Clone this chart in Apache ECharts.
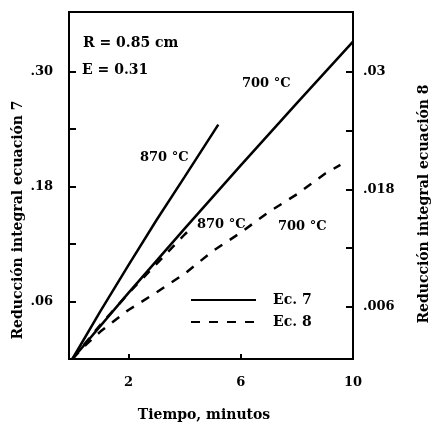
<!DOCTYPE html>
<html>
<head>
<meta charset="utf-8">
<script src="https://cdn.jsdelivr.net/npm/echarts@6/dist/echarts.min.js"></script>
<style>
html,body{margin:0;padding:0;background:#fff;}
#chart{width:433px;height:426px;}
</style>
</head>
<body>
<div id="chart"></div>
<script>
// Time (minutes) and integral reduction values
const ec7_870 = [[0, 0], [1, 0.050], [2, 0.098], [3, 0.145], [4, 0.190], [5.2, 0.2445]];
const ec7_700 = [[0, 0], [2, 0.069], [4, 0.136], [6, 0.202], [8, 0.267], [10, 0.331]];
const ec8_870 = [[0, 0.0007], [1, 0.0042], [2, 0.0074], [3, 0.0104], [4, 0.0134], [4.3, 0.0142]];
const ec8_700 = [[0, 0.0007], [0.5, 0.0022], [1, 0.0035], [2, 0.0057], [3, 0.0075], [4, 0.0094],
                 [5, 0.0117], [6, 0.0136], [7, 0.0157], [8, 0.0175], [9, 0.0196], [9.55, 0.0205]];

const xTicks = [2, 6];
const xLabels = [2, 6, 10];
const leftTicks = [0.06, 0.12, 0.18, 0.24, 0.30];
const leftLabels = [0.06, 0.18, 0.30];
const rightTicks = [0.006, 0.012, 0.018, 0.024, 0.03];
const rightLabels = [0.006, 0.018, 0.03];

const FONT = 'DejaVu Serif';
const txt = { color: '#000', fontFamily: FONT, fontWeight: 'bold', fontSize: 13 };

const chart = echarts.init(document.getElementById('chart'), null, { renderer: 'canvas' });

const lineBase = { type: 'line', symbol: 'none', showSymbol: false, smooth: false, animation: false, color: '#000' };

chart.setOption({
  backgroundColor: '#fff',
  animation: false,
  color: ['#000'],
  grid: { left: 69, right: 80, top: 12, bottom: 67, show: true, borderColor: '#000', borderWidth: 2, backgroundColor: 'transparent' },
  xAxis: {
    type: 'value', min: -0.12, max: 10,
    axisLine: { onZero: false, lineStyle: { color: '#000', width: 2 } },
    axisTick: { inside: true, length: 5, lineStyle: { color: '#000', width: 2 }, customValues: xTicks },
    axisLabel: Object.assign({ customValues: xLabels, margin: 17, showMaxLabel: true }, txt),
    splitLine: { show: false }
  },
  yAxis: [
    {
      type: 'value', position: 'left', min: 0, max: 0.362,
      axisLine: { show: true, onZero: false, lineStyle: { color: '#000', width: 2 } },
      axisTick: { show: true, inside: true, length: 7, lineStyle: { color: '#000', width: 2 }, customValues: leftTicks },
      axisLabel: Object.assign({ customValues: leftLabels, margin: 16, formatter: v => v.toFixed(2).replace(/^0/, '') }, txt),
      splitLine: { show: false }
    },
    {
      type: 'value', position: 'right', min: 0.0007, max: 0.0361,
      axisLine: { show: true, onZero: false, lineStyle: { color: '#000', width: 2 } },
      axisTick: { show: true, inside: true, length: 7, lineStyle: { color: '#000', width: 2 }, customValues: rightTicks },
      axisLabel: Object.assign({ customValues: rightLabels, margin: 10, formatter: v => String(v).replace(/^0/, '') }, txt),
      splitLine: { show: false }
    }
  ],
  legend: {
    data: ['Ec. 7', 'Ec. 8'],
    orient: 'vertical', left: 185, top: 288,
    itemWidth: 65, itemHeight: 12, itemGap: 8,
    itemStyle: { opacity: 0 },
    textStyle: Object.assign({ padding: [0, 0, 0, 12] }, txt, { fontSize: 14 }),
    selectedMode: false
  },
  series: [
    Object.assign({ name: 'Ec. 7', data: ec7_870, yAxisIndex: 0, lineStyle: { color: '#000', width: 2.5, type: 'solid' } }, lineBase),
    Object.assign({ name: 'Ec. 7', data: ec7_700, yAxisIndex: 0, lineStyle: { color: '#000', width: 2.5, type: 'solid' } }, lineBase),
    Object.assign({ name: 'Ec. 8', data: ec8_870, yAxisIndex: 1, lineStyle: { color: '#000', width: 2.5, type: [9, 9] } }, lineBase),
    Object.assign({ name: 'Ec. 8', data: ec8_700, yAxisIndex: 1, lineStyle: { color: '#000', width: 2.5, type: [9, 9] } }, lineBase)
  ],
  graphic: [
    { type: 'text', left: 83, top: 36, style: { text: 'R = 0.85 cm', font: 'bold 14px ' + FONT, fill: '#000' } },
    { type: 'text', left: 82, top: 63, style: { text: 'E = 0.31', font: 'bold 14px ' + FONT, fill: '#000' } },
    { type: 'text', left: 242, top: 77, style: { text: '700 °C', font: 'bold 13px ' + FONT, fill: '#000' } },
    { type: 'text', left: 140, top: 151, style: { text: '870 °C', font: 'bold 13px ' + FONT, fill: '#000' } },
    { type: 'text', left: 197, top: 218, style: { text: '870 °C', font: 'bold 13px ' + FONT, fill: '#000' } },
    { type: 'text', left: 278, top: 220, style: { text: '700 °C', font: 'bold 13px ' + FONT, fill: '#000' } },
    { type: 'text', x: 18, y: 220, rotation: Math.PI / 2,
      style: { text: 'Reducción integral ecuación 7', font: 'bold 14px ' + FONT, fill: '#000', align: 'center', verticalAlign: 'middle' } },
    { type: 'text', x: 424, y: 204, rotation: Math.PI / 2,
      style: { text: 'Reducción integral ecuación 8', font: 'bold 14px ' + FONT, fill: '#000', align: 'center', verticalAlign: 'middle' } },
    { type: 'text', x: 204, y: 415,
      style: { text: 'Tiempo, minutos', font: 'bold 14px ' + FONT, fill: '#000', align: 'center', verticalAlign: 'middle' } }
  ]
});
</script>
</body>
</html>
